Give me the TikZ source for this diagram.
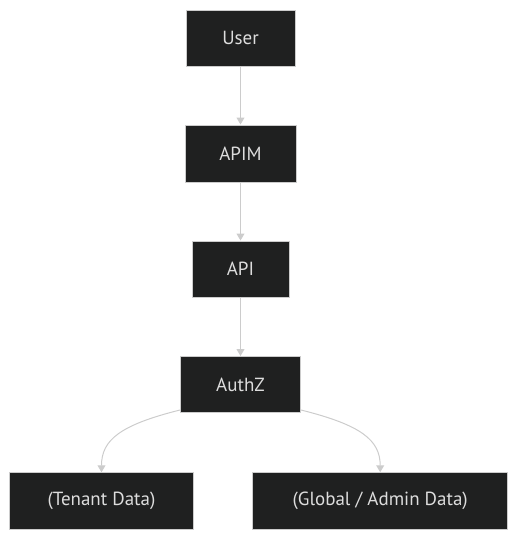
\documentclass[tikz,border=0pt]{standalone}
\usepackage{fontspec}
\setmainfont{PT Sans}
\usetikzlibrary{arrows.meta}
\definecolor{boxfill}{HTML}{1F2020}
\definecolor{boxline}{HTML}{CCCCCC}
\definecolor{boxtext}{HTML}{DDDDDD}
\definecolor{edgecol}{HTML}{CCCCCC}
\begin{document}
\begin{tikzpicture}[x=1pt,y=-1pt,
  box/.style={draw=boxline,fill=boxfill,text=boxtext,line width=1pt,inner sep=0pt,
    font=\fontsize{19}{22}\selectfont,anchor=center},
  edge/.style={draw=edgecol,line width=1pt,-{Triangle[length=7pt,width=8pt]}}]
\useasboundingbox (0,0) rectangle (517,539);
\node[box,minimum width=109pt,minimum height=56pt] (user) at (240.5,38) {User};
\node[box,minimum width=111pt,minimum height=57pt] (apim) at (240.5,153.5) {APIM};
\node[box,minimum width=97pt,minimum height=56pt] (api) at (240.5,269) {API};
\node[box,minimum width=120pt,minimum height=56pt] (authz) at (240.5,384.5) {AuthZ};
\node[box,minimum width=184pt,minimum height=56.5pt] (tenant) at (101.5,501) {(Tenant Data)};
\node[box,minimum width=255pt,minimum height=56.5pt] (global) at (380.2,501) {(Global / Admin Data)};
\draw[edge] (user) -- (apim);
\draw[edge] (apim) -- (api);
\draw[edge] (api) -- (authz);
\draw[edge] (authz.south west) ++(0,-3) .. controls (120,425) and (101.5,440) .. (tenant.north);
\draw[edge] (authz.south east) ++(0,-3) .. controls (361,425) and (380.2,440) .. (global.north);
\end{tikzpicture}
\end{document}
